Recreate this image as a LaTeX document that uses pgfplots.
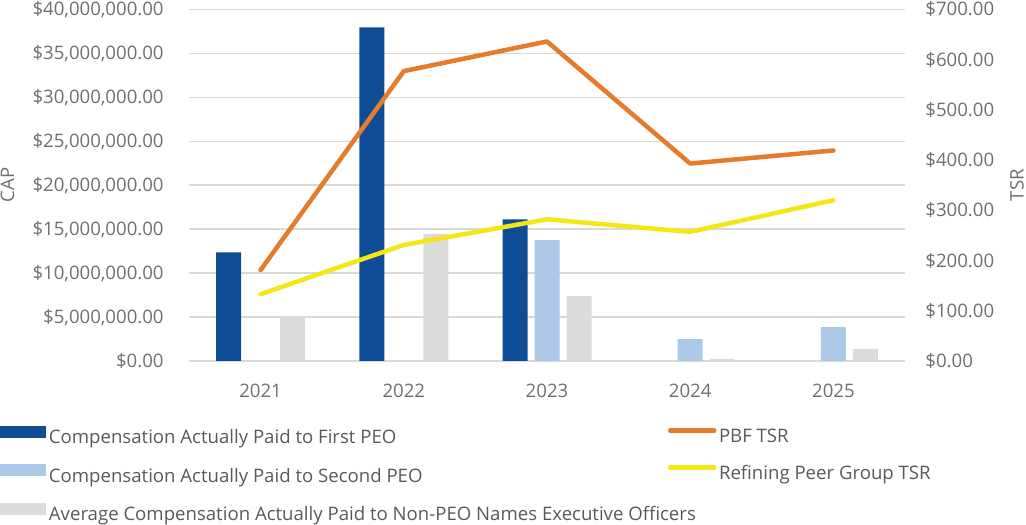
\documentclass[border=0pt]{standalone}
\usepackage{fontspec}
\setmainfont{Open Sans}
\usepackage{pgfplots}
\pgfplotsset{compat=1.18}

\definecolor{peoone}{HTML}{0E4C96}
\definecolor{peotwo}{HTML}{ADC9E8}
\definecolor{neo}{HTML}{DCDCDC}
\definecolor{pbf}{HTML}{E57B2B}
\definecolor{peer}{HTML}{F5E616}
\definecolor{gridc}{HTML}{D9D9D9}
\definecolor{tickc}{HTML}{6F6F6F}
\definecolor{legc}{HTML}{595959}

\newcommand\chartfont{\fontsize{9.3pt}{11pt}\selectfont}

% 1 px of the reference = 0.5pt
\pgfplotsset{
  capbase/.style={
    scale only axis, width=358pt, height=175.85pt,
    at={(94.5pt,81.5pt)}, anchor=south west,
    xmin=-0.5, xmax=4.5, ymin=0,
    axis line style={draw=none}, major tick length=0pt,
    /pgf/number format/assume math mode=true,
    tick label style={font=\chartfont, text=tickc,
      inner sep=0pt, text height=6.6pt, text depth=0pt},
    legend style={draw=none, fill=none, inner sep=0pt, outer sep=0pt,
      anchor=north west, font=\chartfont, text=legc,
      row sep=7pt, cells={anchor=west},
      nodes={inner sep=1.25pt, text height=7pt, text depth=2pt}},
  }
}

\begin{document}
\begin{tikzpicture}
\useasboundingbox (0,0) rectangle (513pt,262pt);

% CAP in millions of dollars
\begin{axis}[capbase, ymax=40,
  ybar=3.5pt, bar width=12.5pt,
  ymajorgrids, grid style={gridc, line width=0.65pt},
  xtick={0,1,2,3,4}, xticklabels={2021,2022,2023,2024,2025},
  xticklabel style={anchor=north, yshift=-11.25pt},
  ytick={0,5,10,15,20,25,30,35,40},
  yticklabels={{\$0.00},{\$5,000,000.00},{\$10,000,000.00},{\$15,000,000.00},
    {\$20,000,000.00},{\$25,000,000.00},{\$30,000,000.00},{\$35,000,000.00},
    {\$40,000,000.00}},
  yticklabel style={anchor=east, xshift=-12.5pt},
  every axis y label/.style={at={(axis description cs:-0.2535,0.5)},
    rotate=90, anchor=center, inner sep=0pt, font=\chartfont, text=tickc},
  ylabel=CAP,
  legend style={at={(axis description cs:-0.2633,-0.1848)}},
  legend image code/.code={\fill[#1] (0pt,0.4pt) rectangle (23pt,6.4pt);},
]
\addplot[fill=peoone, draw=none] coordinates {(0,12.35) (1,37.95) (2,16.1)};
\addlegendentry{Compensation Actually Paid to First PEO}
\addplot[fill=peotwo, draw=none] coordinates {(2,13.75) (3,2.5) (4,3.85)};
\addlegendentry{Compensation Actually Paid to Second PEO}
\addplot[fill=neo, draw=none] coordinates {(0,4.97) (1,14.45) (2,7.4) (3,0.25) (4,1.37)};
\addlegendentry{Average Compensation Actually Paid to Non-PEO Names Executive Officers}
\end{axis}

% TSR
\begin{axis}[capbase, ymax=700,
  axis y line*=right, hide x axis,
  ytick={0,100,200,300,400,500,600,700},
  yticklabels={{\$0.00},{\$100.00},{\$200.00},{\$300.00},{\$400.00},
    {\$500.00},{\$600.00},{\$700.00}},
  yticklabel style={anchor=west, xshift=10pt},
  every axis y label/.style={at={(axis description cs:1.1564,0.5)},
    rotate=90, anchor=center, inner sep=0pt, font=\chartfont, text=tickc},
  ylabel=TSR,
  legend style={at={(axis description cs:0.669,-0.1848)}},
  legend image code/.code={\draw[#1, line cap=round] (0pt,3.4pt) -- (22pt,3.4pt);},
]
\addplot[pbf, line width=2.25pt, line join=round, line cap=round]
  coordinates {(0,181) (1,577) (2,636) (3,393) (4,419)};
\addlegendentry{PBF TSR}
\addplot[peer, line width=2.25pt, line join=round, line cap=round]
  coordinates {(0,133) (1,231) (2,282) (3,257) (4,320)};
\addlegendentry{Refining Peer Group TSR}
\end{axis}
\end{tikzpicture}
\end{document}
